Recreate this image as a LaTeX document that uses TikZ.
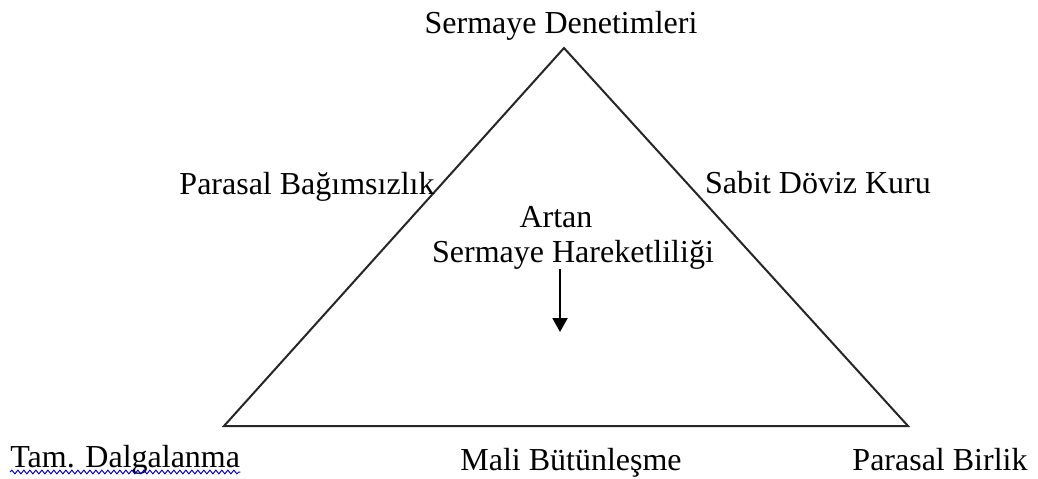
\documentclass[tikz,border=0pt]{standalone}
\usepackage{fontspec}
\setmainfont{Liberation Serif}
\usetikzlibrary{arrows.meta, decorations.pathmorphing}
\tikzset{
  lbl/.style   = {font=\fontsize{16}{19}\selectfont, inner sep=0pt, anchor=base},
  edge/.style  = {draw=black!85, line width=1pt, line join=miter},
  flow/.style  = {-{Triangle[length=7pt, width=7.5pt]}, draw=black, line width=1pt},
  squig/.style = {draw=blue!80!black, line width=0.5pt, decorate,
                  decoration={snake, amplitude=0.9pt, segment length=3pt}}
}

\begin{document}
\begin{tikzpicture}[x=0.5pt, y=-0.5pt]
  \useasboundingbox (0,0) rectangle (1038,478);

  % corners of the trilemma
  \coordinate (apex) at (564,48);
  \coordinate (bl)   at (224,426);
  \coordinate (br)   at (908,426);
  \draw[edge] (apex) -- (bl) -- (br) -- cycle;

  \node[lbl] (sd)   at (561,33)  {Sermaye Denetimleri};
  \node[lbl] (pb)   at (307,194) {Parasal Bağımsızlık};
  \node[lbl] (sdk)  at (818,193) {Sabit Döviz Kuru};
  \node[lbl] (art)  at (556,227) {Artan};
  \node[lbl] (mob)  at (573,262) {Sermaye Hareketliliği};
  \node[lbl, anchor=base west] (tam) at (10,467) {Tam. Dalgalanma};
  \node[lbl] (mali) at (571,470) {Mali Bütünleşme};
  \node[lbl] (pbir) at (940,470) {Parasal Birlik};

  \coordinate (tip) at (560,332);
  \draw[flow] (mob.south -| tip) -- (tip);

  \draw[squig] ([yshift=-2.5pt]tam.base west) -- ([yshift=-2.5pt]tam.base east);
\end{tikzpicture}
\end{document}
